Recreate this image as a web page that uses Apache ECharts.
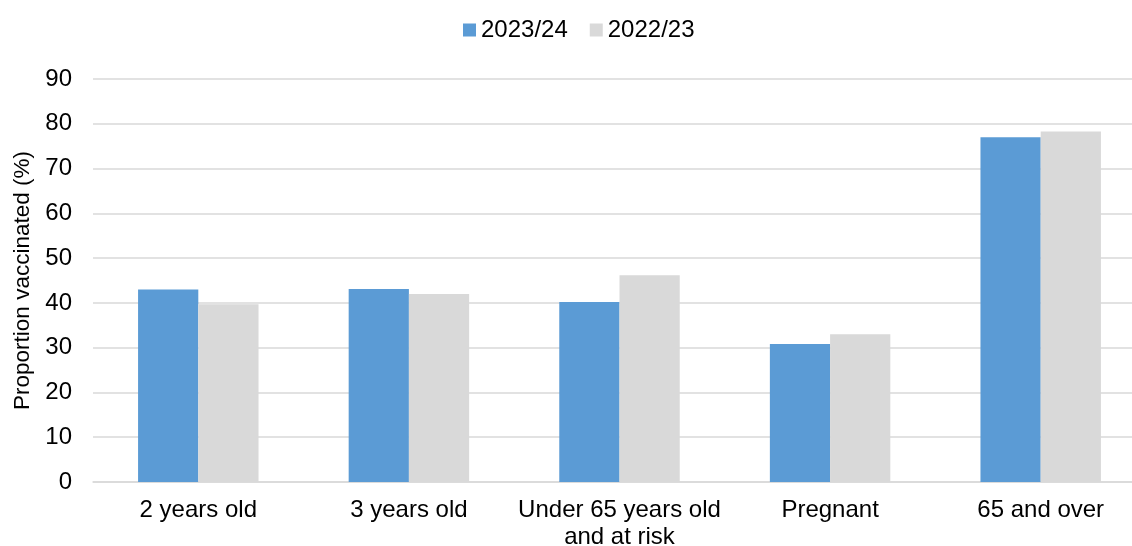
<!DOCTYPE html>
<html>
<head>
<meta charset="utf-8">
<script src="https://cdn.jsdelivr.net/npm/echarts@6/dist/echarts.min.js"></script>
<style>
  html, body { margin: 0; padding: 0; background: #fff; }
  #chart { width: 1132px; height: 546px; }
</style>
</head>
<body>
<div id="chart"></div>
<script>
// categories and values
const categories = ['2 years old', '3 years old', 'Under 65 years old\nand at risk', 'Pregnant', '65 and over'];
const season2324 = [43.0, 43.1, 40.2, 30.8, 77.0];
const season2223 = [39.7, 42.0, 46.2, 33.0, 78.3];
const yTicks = { min: 0, max: 90, interval: 10 };

const font = 'Liberation Sans, Arial, sans-serif';

let myChart = echarts.init(document.getElementById('chart'));
myChart.setOption({
  animation: false,
  textStyle: { fontFamily: font, color: '#000' },
  legend: {
    top: 13,
    left: 458,
    itemWidth: 13,
    itemHeight: 13,
    itemGap: 22,
    icon: 'rect',
    textStyle: { fontSize: 24, color: '#000', fontFamily: font }
  },
  // plot runs a little past the right edge, as in the original
  grid: { left: 93, right: -14, top: 79, bottom: 64, containLabel: false, outerBoundsMode: 'none' },
  xAxis: {
    type: 'category',
    data: categories,
    axisTick: { show: false },
    axisLine: { lineStyle: { color: '#D9D9D9', width: 1.5 } },
    axisLabel: { fontSize: 24, color: '#000', margin: 15, lineHeight: 27, fontFamily: font, interval: 0 }
  },
  yAxis: {
    type: 'value',
    min: yTicks.min,
    max: yTicks.max,
    interval: yTicks.interval,
    name: 'Proportion vaccinated (%)',
    nameLocation: 'middle',
    nameGap: 56,
    nameTextStyle: { fontSize: 22.5, color: '#000', fontFamily: font },
    axisLine: { show: false },
    axisTick: { show: false },
    splitLine: { lineStyle: { color: '#D9D9D9', width: 1.5 } },
    axisLabel: { fontSize: 24, color: '#000', margin: 21, fontFamily: font }
  },
  series: [
    {
      name: '2023/24',
      type: 'bar',
      data: season2324,
      barGap: '0%',
      barCategoryGap: '42.8%',
      itemStyle: { color: '#5B9BD5' }
    },
    {
      name: '2022/23',
      type: 'bar',
      data: season2223,
      itemStyle: { color: '#D9D9D9' }
    }
  ]
});
</script>
</body>
</html>
